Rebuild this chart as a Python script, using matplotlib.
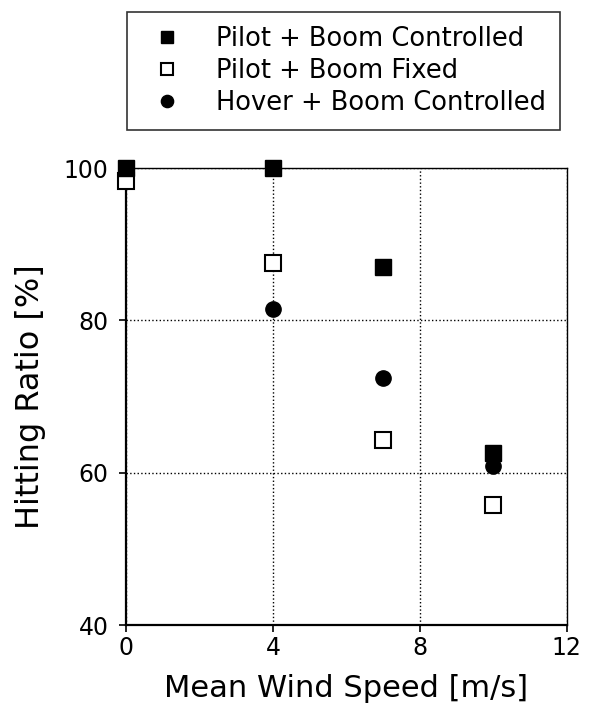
import numpy as np
import matplotlib.pyplot as plt

plt.rcParams['font.family'] = ['DejaVu Sans']

# mean wind speed [m/s]
wind = [0, 4, 7, 10]
# hitting ratio [%] for each setup
pilot_ctrl = [100, 100, 87, 62.6]
pilot_fixed = [98.3, 87.5, 64.3, 55.8]
hover_ctrl = [100, 81.5, 72.4, 60.9]

xticks = [0, 4, 8, 12]
yticks = [40, 60, 80, 100]

fig = plt.figure(figsize=(6.03, 7.12), dpi=100)
ax = fig.add_axes([0.209, 0.122, 0.731, 0.642])

ax.grid(True, color='black', linestyle=':', linewidth=1.0)
ax.set_axisbelow(True)

ms = 11
h1, = ax.plot(wind, pilot_ctrl, 's', color='black', markersize=ms, zorder=4,
              clip_on=False, label='Pilot + Boom Controlled')
h2, = ax.plot(wind, pilot_fixed, 's', markerfacecolor='white', markeredgecolor='black',
              markeredgewidth=1.5, markersize=ms, zorder=3, clip_on=False,
              label='Pilot + Boom Fixed')
h3, = ax.plot(wind, hover_ctrl, 'o', color='black', markersize=ms, zorder=3,
              clip_on=False, label='Hover + Boom Controlled')

ax.set_xlim(0, 12)
ax.set_ylim(40, 100)
ax.set_xticks(xticks)
ax.set_yticks(yticks)
ax.tick_params(direction='out', length=5, width=1.2, labelsize=17, pad=3)
ax.tick_params(axis='y', pad=7.5)

for side in ['left', 'bottom']:
    ax.spines[side].set_linewidth(1.6)
for side in ['top', 'right']:
    ax.spines[side].set_linewidth(1.0)

ax.set_xlabel('Mean Wind Speed [m/s]', fontsize=22, labelpad=10)
ax.set_ylabel('Hitting Ratio [%]', fontsize=23, labelpad=13)

leg = fig.legend(handles=[h1, h2, h3], loc='upper left',
                 bbox_to_anchor=(0.211, 0.983), borderaxespad=0, fontsize=18.5,
                 frameon=True, fancybox=False, borderpad=0.55,
                 handletextpad=0.9, labelspacing=0.22, markerscale=0.8)
leg.get_frame().set_edgecolor('black')
leg.get_frame().set_linewidth(1.2)

fig.savefig('out.png', dpi=100)
